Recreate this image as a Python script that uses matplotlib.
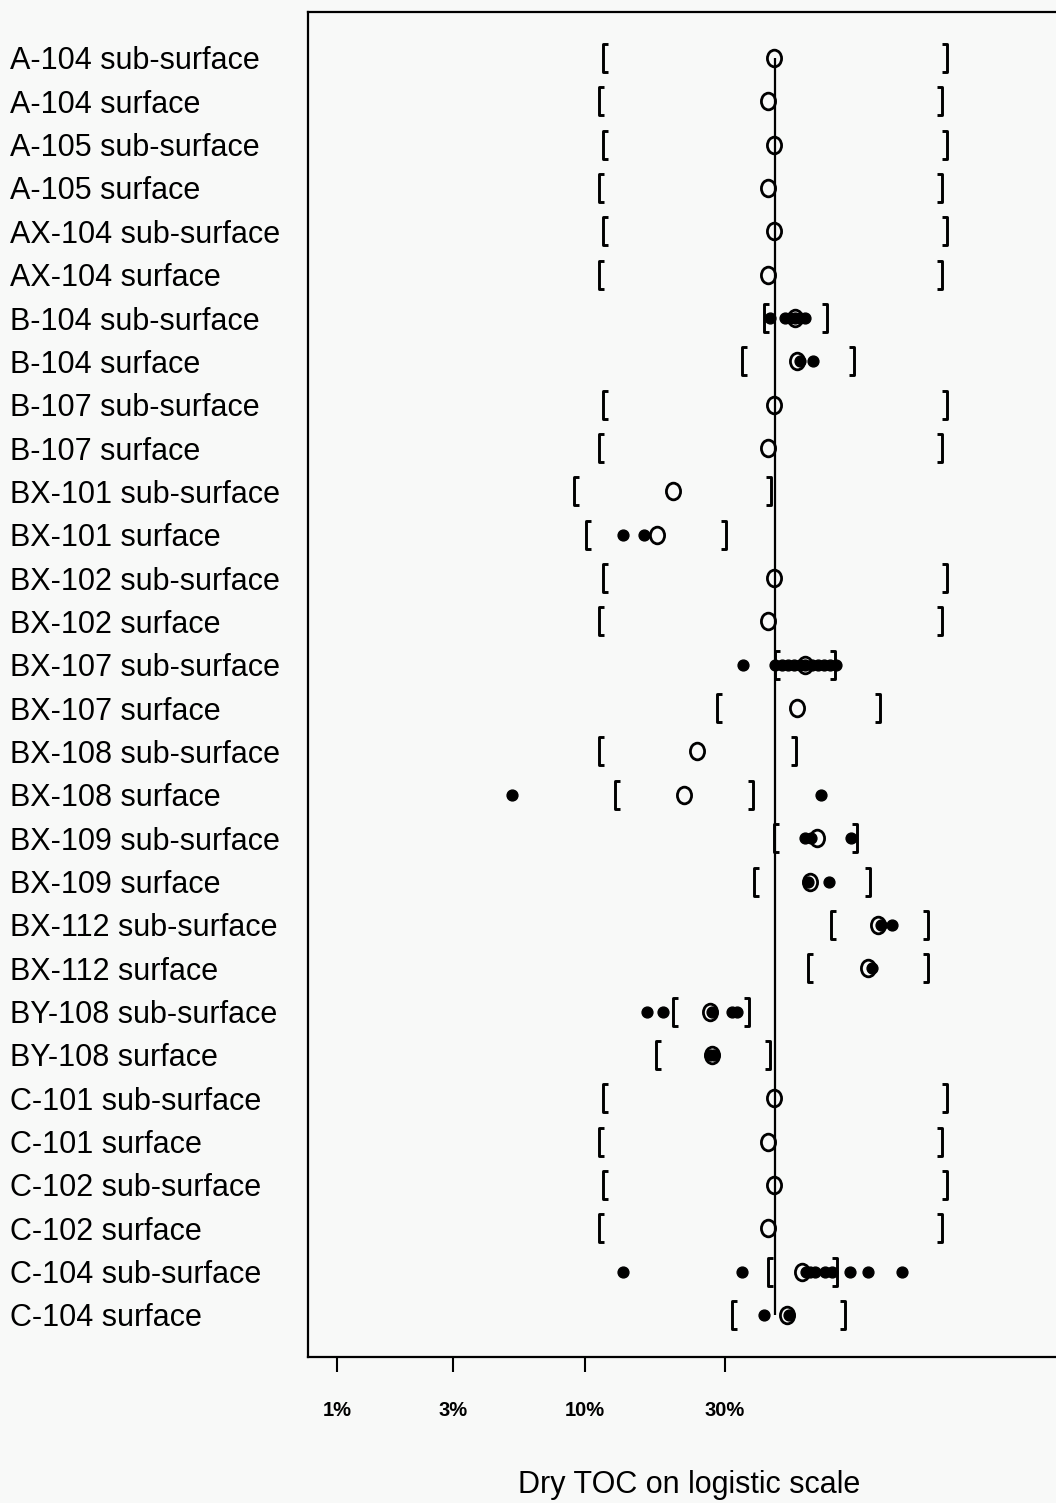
import matplotlib
matplotlib.use('Agg')
import matplotlib.pyplot as plt
from matplotlib.path import Path
from matplotlib.ticker import NullLocator
from matplotlib.transforms import blended_transform_factory
import numpy as np

plt.rcParams['font.family'] = ['Liberation Sans', 'DejaVu Sans']

# samples, top to bottom
labels = [
    "A-104 sub-surface", "A-104 surface", "A-105 sub-surface", "A-105 surface",
    "AX-104 sub-surface", "AX-104 surface", "B-104 sub-surface", "B-104 surface",
    "B-107 sub-surface", "B-107 surface", "BX-101 sub-surface", "BX-101 surface",
    "BX-102 sub-surface", "BX-102 surface", "BX-107 sub-surface", "BX-107 surface",
    "BX-108 sub-surface", "BX-108 surface", "BX-109 sub-surface", "BX-109 surface",
    "BX-112 sub-surface", "BX-112 surface", "BY-108 sub-surface", "BY-108 surface",
    "C-101 sub-surface", "C-101 surface", "C-102 sub-surface", "C-102 surface",
    "C-104 sub-surface", "C-104 surface",
]

# interval ends and estimate (percent dry TOC)
lower = [11.7, 11.3, 11.7, 11.3, 11.7, 11.3, 38.4, 33.6, 11.7, 11.3,
         9.1, 10.1, 11.7, 11.3, 41.0, 28.4, 11.3, 12.9, 40.8, 36.2,
         54.4, 48.9, 20.6, 18.0, 11.7, 11.3, 11.7, 11.3, 39.4, 31.4]
estimate = [40.8, 39.4, 40.8, 39.4, 40.8, 39.4, 45.7, 46.2, 40.8, 39.4,
            20.6, 18.2, 40.8, 39.4, 48.1, 46.2, 24.6, 22.4, 51.0, 49.3,
            65.3, 63.0, 27.0, 27.4, 40.8, 39.4, 40.8, 39.4, 47.4, 43.8]
upper = [78.5, 77.7, 78.5, 77.7, 78.5, 77.7, 53.4, 59.8, 78.5, 77.7,
         40.1, 30.2, 78.5, 77.7, 55.4, 65.7, 46.0, 36.0, 60.5, 63.5,
         75.3, 75.3, 35.1, 39.8, 78.5, 77.7, 78.5, 77.7, 55.8, 57.7]

# individual measurements (percent)
points = [
    [], [], [], [], [], [],
    [39.8, 43.4, 44.5, 45.7, 46.9, 48.1],
    [46.9, 50.1],
    [], [], [],
    [13.8, 16.4],
    [], [],
    [33.8, 41.0, 42.6, 44.1, 45.5, 46.9, 48.1, 49.8, 51.3, 52.7, 54.2, 55.6],
    [], [],
    [5.2, 52.0],
    [48.1, 49.7, 59.1],
    [48.9, 53.9],
    [66.0, 68.3],
    [63.9],
    [16.8, 19.1, 27.5, 31.4, 32.5],
    [27.0, 27.8],
    [], [], [], [],
    [13.8, 33.6, 48.5, 49.3, 50.6, 53.0, 54.6, 58.9, 63.0, 70.3],
    [38.4, 44.2],
]

reference = 41.0

FIG_SIZE = (10.56, 15.03)
BG = '#f8f9f8'

fig = plt.figure(figsize=FIG_SIZE, dpi=100, facecolor=BG)
ax = fig.add_axes([308 / 1056, 1 - 1357 / 1503, 752 / 1056, 1345 / 1503], facecolor=BG)
ax.set_xscale('logit')
ax.set_xlim(0.00757, 0.916)
ax.set_ylim(29.97, -1.06)

rows = np.arange(len(labels))

# bracket and "o" shaped markers
left_bracket = Path([(0.35, 1), (0, 1), (0, -1), (0.35, -1)])
right_bracket = Path([(-0.35, 1), (0, 1), (0, -1), (-0.35, -1)])
circ = Path.unit_circle()
oval = Path(circ.vertices * [0.85, 1.0], circ.codes)

ax.vlines(reference / 100, 0, len(labels) - 1, color='black', lw=1.6, zorder=1)

ax.plot(np.array(lower) / 100, rows, ls='none', marker=left_bracket, ms=20,
        mfc='none', mec='black', mew=2.1, zorder=2)
ax.plot(np.array(upper) / 100, rows, ls='none', marker=right_bracket, ms=20,
        mfc='none', mec='black', mew=2.1, zorder=2)
ax.plot(np.array(estimate) / 100, rows, ls='none', marker=oval, ms=12,
        mfc='none', mec='black', mew=2.0, zorder=3)

for i, pts in enumerate(points):
    if len(pts) == 0:
        continue
    ax.plot(np.array(pts) / 100, [i] * len(pts), ls='none', marker='o', ms=7.8,
            color='black', zorder=4)

# axis
ax.set_xticks([0.01, 0.03, 0.1, 0.3])
ax.set_xticklabels(['1%', '3%', '10%', '30%'], fontsize=14.5, fontweight='bold')
ax.xaxis.set_minor_locator(NullLocator())
ax.tick_params(axis='x', direction='out', length=11, width=1.5, pad=21)
ax.set_yticks([])
for s in ['left', 'top', 'bottom']:
    ax.spines[s].set_linewidth(1.6)
ax.spines['right'].set_visible(False)

trans = blended_transform_factory(fig.transFigure, ax.transData)
for i, lab in enumerate(labels):
    ax.text(10 / 1056, i, lab, transform=trans, ha='left', va='center_baseline',
            fontsize=22, clip_on=False)

fig.text(689 / 1056, 1 - 1485 / 1503, 'Dry TOC on logistic scale',
         ha='center', va='center', fontsize=22)

fig.savefig('out.png', dpi=100, facecolor=BG)
